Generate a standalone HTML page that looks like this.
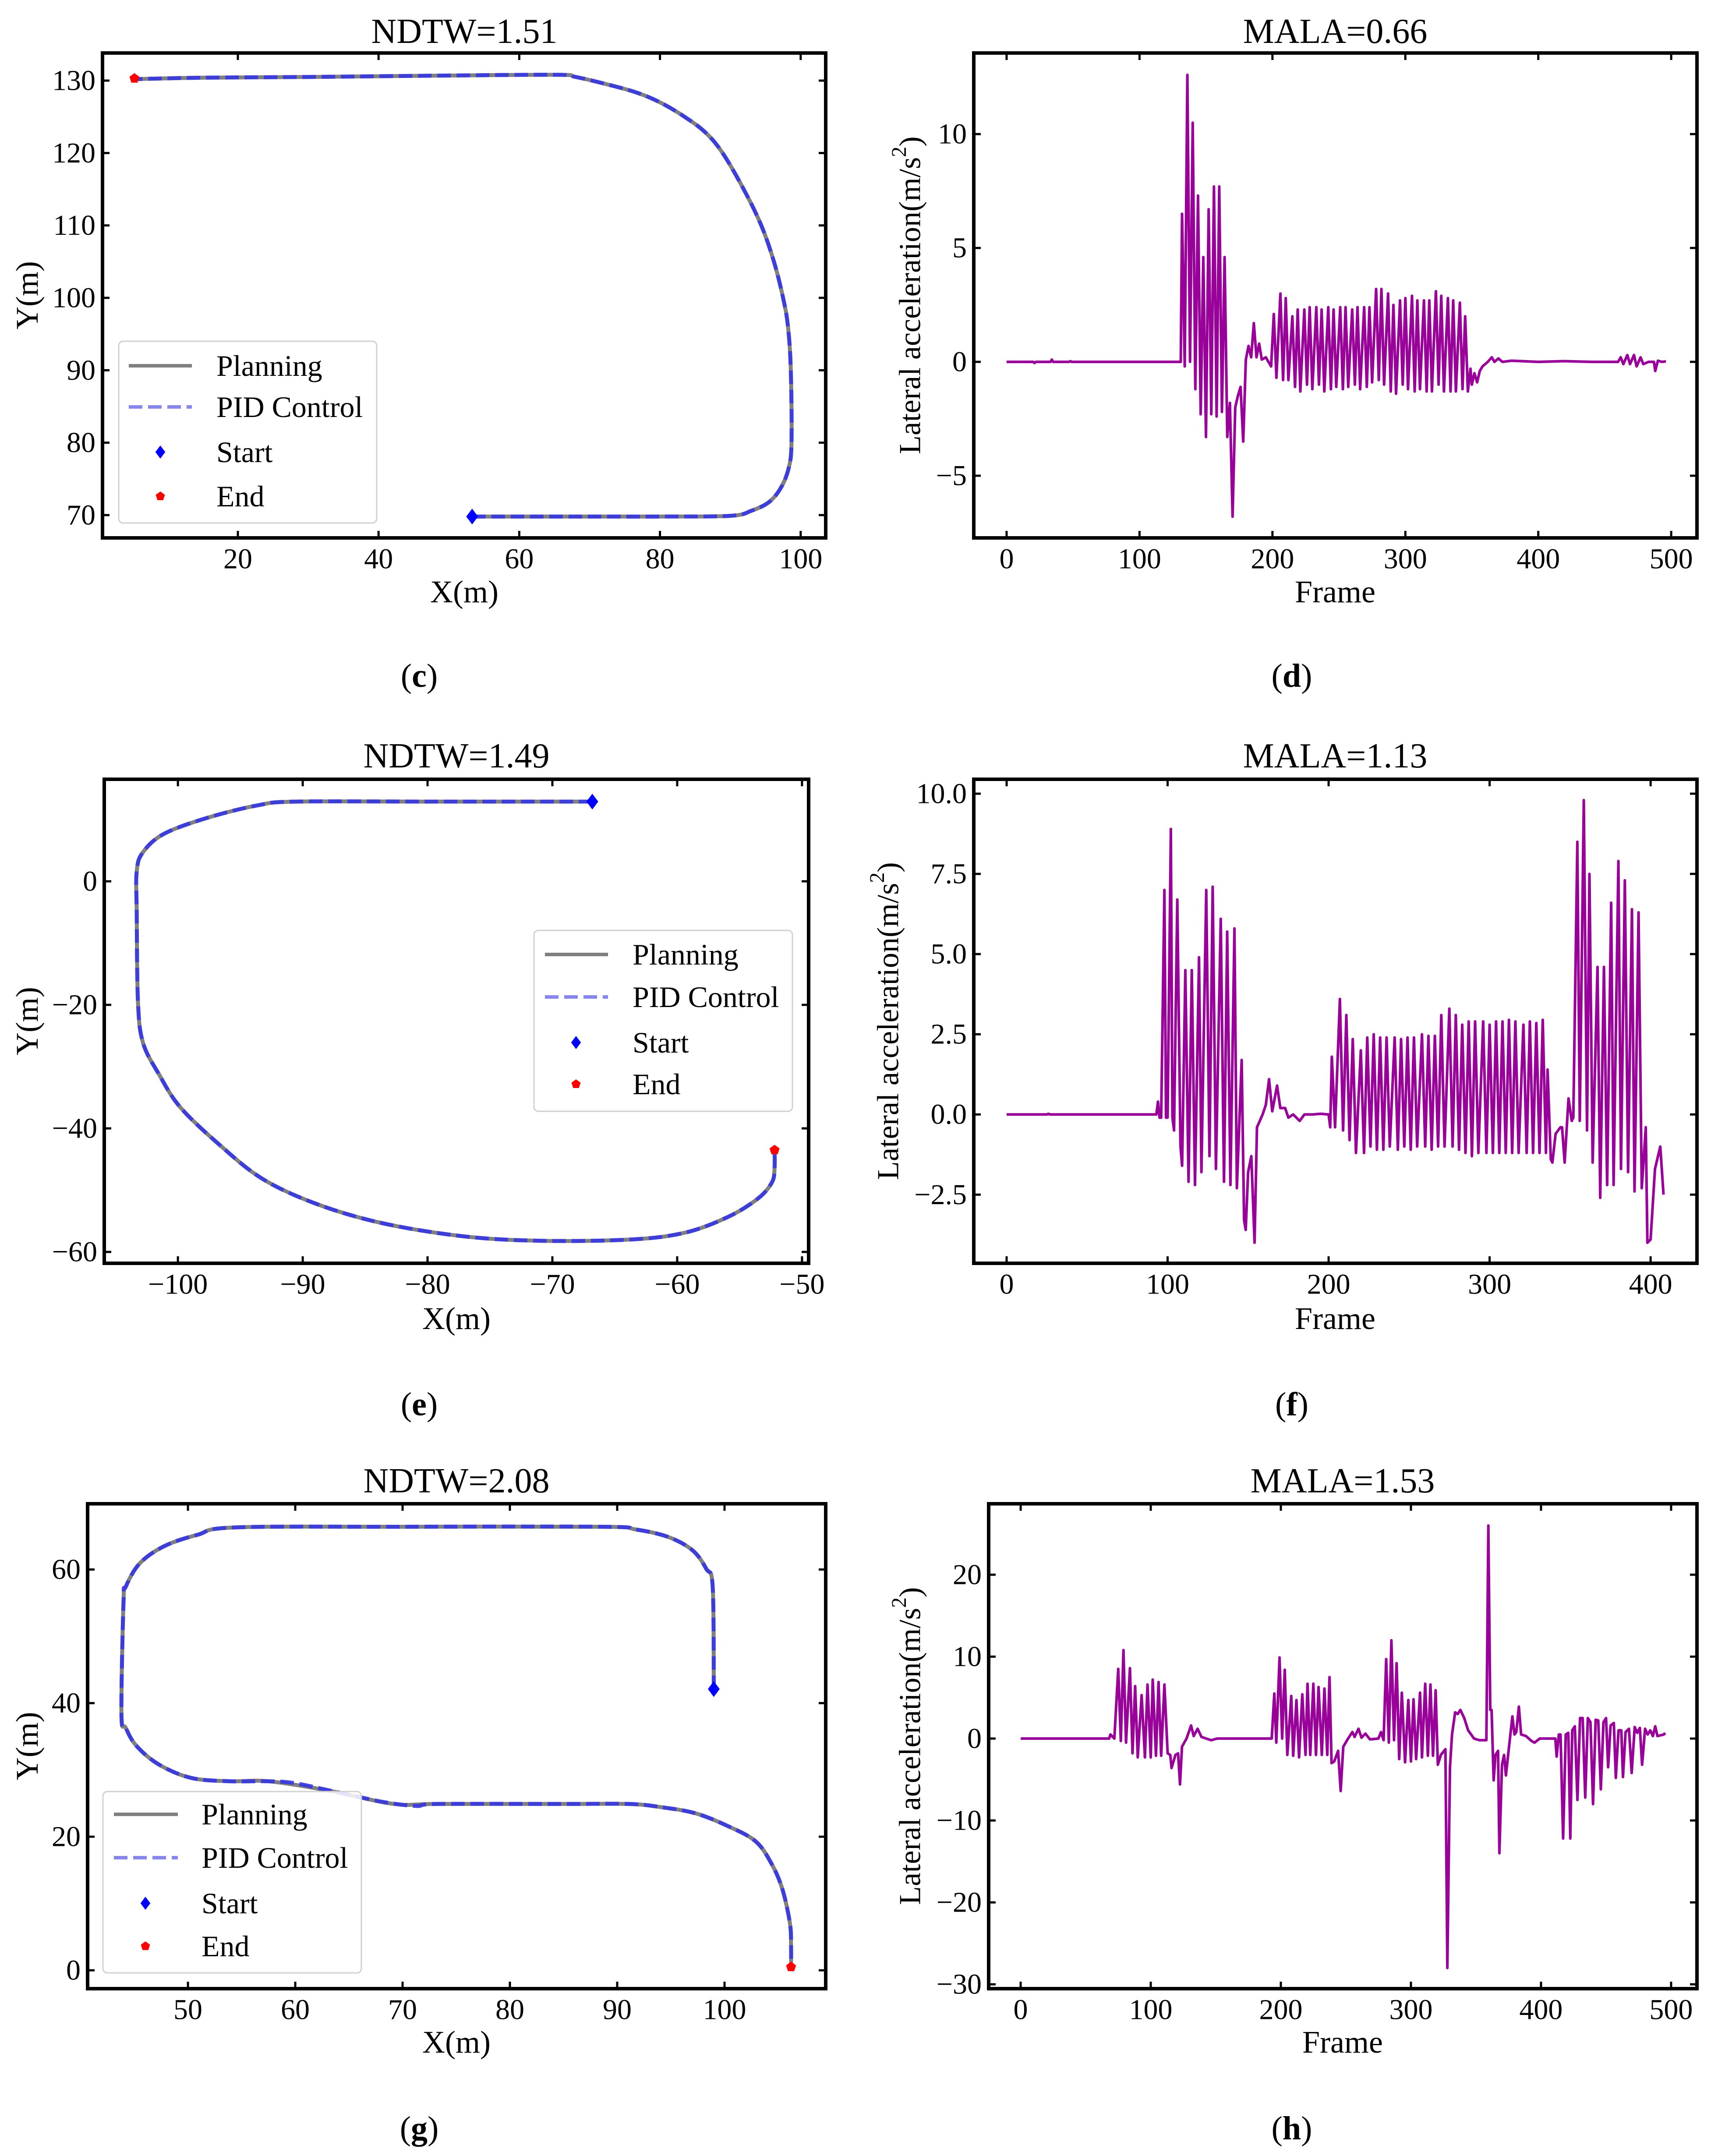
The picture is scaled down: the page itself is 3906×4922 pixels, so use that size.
<!DOCTYPE html>
<html><head><meta charset="utf-8"><title>Trajectory and lateral acceleration charts</title>
<style>
html,body{margin:0;padding:0;background:#fff;}
svg{display:block;font-family:"Liberation Serif","DejaVu Serif",serif;}
</style></head>
<body>
<svg id="fig" xmlns="http://www.w3.org/2000/svg" width="3906" height="4922" viewBox="0 0 3906 4922">
<rect x="0" y="0" width="3906" height="4922" fill="#fff"/>
<g id="static" font-family="Liberation Serif, serif" fill="#000">
  <text x="1060" y="72" font-size="80" text-anchor="middle" dominant-baseline="central">NDTW=1.51</text>
  <text x="3048" y="72" font-size="80" text-anchor="middle" dominant-baseline="central">MALA=0.66</text>
  <text x="1042" y="1726" font-size="80" text-anchor="middle" dominant-baseline="central">NDTW=1.49</text>
  <text x="3048" y="1726" font-size="80" text-anchor="middle" dominant-baseline="central">MALA=1.13</text>
  <text x="1042" y="3381" font-size="80" text-anchor="middle" dominant-baseline="central">NDTW=2.08</text>
  <text x="3065" y="3381" font-size="80" text-anchor="middle" dominant-baseline="central">MALA=1.53</text>
  <text x="1060" y="1351" font-size="72" text-anchor="middle" dominant-baseline="central">X(m)</text>
  <text x="3048" y="1351" font-size="72" text-anchor="middle" dominant-baseline="central">Frame</text>
  <text x="1042" y="3010" font-size="72" text-anchor="middle" dominant-baseline="central">X(m)</text>
  <text x="3048" y="3010" font-size="72" text-anchor="middle" dominant-baseline="central">Frame</text>
  <text x="1042" y="4662" font-size="72" text-anchor="middle" dominant-baseline="central">X(m)</text>
  <text x="3065" y="4662" font-size="72" text-anchor="middle" dominant-baseline="central">Frame</text>
  <text x="62" y="674" font-size="72" text-anchor="middle" dominant-baseline="central" transform="rotate(-90 62 674)">Y(m)</text>
  <text x="2078" y="674" font-size="70" text-anchor="middle" dominant-baseline="central" transform="rotate(-90 2078 674)">Lateral acceleration(m/s<tspan font-size="48" dy="-26">2</tspan><tspan dy="26">)</tspan></text>
  <text x="62" y="2331" font-size="72" text-anchor="middle" dominant-baseline="central" transform="rotate(-90 62 2331)">Y(m)</text>
  <text x="2028" y="2331" font-size="70" text-anchor="middle" dominant-baseline="central" transform="rotate(-90 2028 2331)">Lateral acceleration(m/s<tspan font-size="48" dy="-26">2</tspan><tspan dy="26">)</tspan></text>
  <text x="62" y="3986" font-size="72" text-anchor="middle" dominant-baseline="central" transform="rotate(-90 62 3986)">Y(m)</text>
  <text x="2078" y="3986" font-size="70" text-anchor="middle" dominant-baseline="central" transform="rotate(-90 2078 3986)">Lateral acceleration(m/s<tspan font-size="48" dy="-26">2</tspan><tspan dy="26">)</tspan></text>
  <text x="957" y="1543" font-size="76" text-anchor="middle" dominant-baseline="central">(<tspan font-weight="bold">c</tspan>)</text>
  <text x="2949" y="1543" font-size="76" text-anchor="middle" dominant-baseline="central">(<tspan font-weight="bold">d</tspan>)</text>
  <text x="957" y="3206" font-size="76" text-anchor="middle" dominant-baseline="central">(<tspan font-weight="bold">e</tspan>)</text>
  <text x="2949" y="3206" font-size="76" text-anchor="middle" dominant-baseline="central">(<tspan font-weight="bold">f</tspan>)</text>
  <text x="957" y="4859" font-size="76" text-anchor="middle" dominant-baseline="central">(<tspan font-weight="bold">g</tspan>)</text>
  <text x="2949" y="4859" font-size="76" text-anchor="middle" dominant-baseline="central">(<tspan font-weight="bold">h</tspan>)</text>
</g>
<g id="dyn"></g>
</svg>
<script>
// ---------- Trajectory data ----------
const cPlanX = [53.3,60,70,80,90,93,95.5,97.2,98.3,98.7,98.6,98.2,97.5,96.2,94.4,91.9,88.9,86.5,83.5,80,76.5,72,68,65.5,50,30,15,5.3];
const cPlanY = [69.8,69.8,69.8,69.8,69.9,70.6,71.8,73.8,76.5,80,90,96,100,105,110,115,120,122.8,125,127,128.4,129.6,130.5,130.8,130.7,130.5,130.4,130.2];
const cCtrlX = [53.3,60,70,80,90,93,95.5,97.2,98.3,98.7,98.6,98.2,97.5,96.2,94.4,91.9,88.9,86.5,83.5,80,76.5,72,68,65.5,50,30,15,5.3];
const cCtrlY = [69.8,69.8,69.8,69.8,69.9,70.6,71.8,73.8,76.5,80,90,96,100,105,110,115,120,122.8,125,127,128.4,129.6,130.5,130.8,130.7,130.5,130.4,130.2];
const cStart = [53.3,69.8];
const cEnd = [5.3,130.3];

const ePlanX = [-66.8,-80,-90.6,-93.6,-97.6,-101.1,-102.8,-103.3,-103.3,-103.2,-102.8,-101.5,-99.8,-96.7,-93.2,-88.8,-83.5,-77,-70.8,-63.8,-59.4,-55.9,-53.5,-52.4,-52.2,-52.2];
const ePlanY = [12.9,12.9,12.9,12.3,10.3,7.7,4.7,1.6,-5,-19.4,-26.1,-31.3,-36.6,-42.6,-48.2,-52.3,-55.4,-57.5,-58.2,-58,-56.9,-54.3,-51.3,-48.7,-46.4,-43.5];
const eCtrlX = [-66.8,-80,-90.6,-93.6,-97.6,-101.1,-102.8,-103.3,-103.3,-103.2,-102.8,-101.5,-99.8,-96.7,-93.2,-88.8,-83.5,-77,-70.8,-63.8,-59.4,-55.9,-53.5,-52.4,-52.2,-52.2];
const eCtrlY = [12.9,12.9,12.9,12.3,10.3,7.7,4.7,1.6,-5,-19.4,-26.1,-31.3,-36.6,-42.6,-48.2,-52.3,-55.4,-57.5,-58.2,-58,-56.9,-54.3,-51.3,-48.7,-46.4,-43.5];
const eStart = [-66.8,12.9];
const eEnd = [-52.2,-43.5];

const gPlanX = [99.0,98.9,98.3,97.0,94.7,91.7,88.6,70,54.4,50.9,47.8,45.5,44.2,44.0,43.8,44.2,45.2,47.3,50.3,53.9,57.5,63.1,69.2,73.3,85,91.1,94.2,97.3,100.3,102.9,104.4,105.4,106.1,106.2,106.2];
const gPlanY = [42.1,57.4,60.1,62.9,64.9,66.0,66.4,66.4,66.3,65.2,63.5,60.9,57.4,55.4,38.4,36.3,33.6,30.8,28.8,28.3,28.3,26.9,24.9,24.9,24.9,24.9,24.4,23.5,21.6,19.3,15.9,12.1,7.0,3.6,0.5];
const gCtrlX = [99.0,98.9,98.3,97.0,94.7,91.7,88.6,70,54.4,50.9,47.8,45.5,44.2,44.0,43.8,44.2,45.2,47.3,50.3,53.9,57.5,60.0,64.1,68.2,71.3,73.3,85,91.1,94.2,97.3,100.3,102.9,104.4,105.4,106.1,106.2,106.2];
const gCtrlY = [42.1,57.4,60.1,62.9,64.9,66.0,66.4,66.4,66.3,65.2,63.5,60.9,57.4,55.4,38.4,36.3,33.6,30.8,28.8,28.3,28.3,28.0,26.6,25.2,24.6,24.9,24.9,24.9,24.4,23.5,21.6,19.3,15.9,12.1,7.0,3.6,0.5];
const gStart = [99.0,42.1];
const gEnd = [106.2,0.5];

// ---------- Acceleration data ----------
const dHeadFrames = [0,20,21,22,33,34,35,47,48,49,131,132,134,136,138,140,142,144,146,148,150,152,154,156,158,160,162,164,166,168,170,172,174,176,178,180,182,184,186,188,190,192,195,197,199];
const dHeadValues = [0,0,-0.05,0,0,0.1,0,0,0.03,0,0,6.5,-0.2,12.6,0,10.5,-1.2,7.3,-2.3,4.6,-3.3,6.7,-2.3,7.7,-2.4,7.7,-2.2,4.6,-3.3,-1.8,-6.8,-2.0,-1.5,-1.1,-3.5,0.1,0.7,0.2,1.7,0.2,0.8,0.1,0.2,0,-0.2];
const dPeakFrames = [201,206,210,215,219,224,228,233,237,242,246,251,255,260,264,269,273,278,282,287,291,296,300,305,309,314,318,323,327,332,336,341,345];
const dPeakValues = [2.1,3.0,2.8,2.0,2.3,2.3,2.4,2.4,2.3,2.4,2.3,2.4,2.4,2.3,2.4,2.4,2.4,3.2,3.2,3.0,2.5,2.7,2.8,2.9,2.7,2.7,2.7,3.1,2.9,2.8,2.7,2.6,2.0];
const dTroughValues = [-0.7,-0.8,-0.8,-1.1,-1.3,-1.0,-1.2,-1.0,-1.3,-1.2,-1.1,-1.2,-1.1,-1.0,-1.2,-1.1,-0.9,-0.8,-1.0,-1.3,-1.4,-1.0,-1.2,-1.3,-1.2,-1.3,-1.3,-1.0,-1.3,-1.3,-1.3,-1.2,-1.3];
const dTailFrames = [349,350,352,354,356,358,362,365,367,370,373,380,400,420,440,460,462,464,467,469,472,474,477,479,483,487,488,490,493,496];
const dTailValues = [-0.3,-1.0,-0.5,-0.9,-0.4,-0.2,0.0,0.2,0.0,0.15,0.0,0.05,0,0.03,0,0,0.2,-0.1,0.3,-0.1,0.3,-0.2,0.2,-0.1,0.0,0,-0.4,0.05,0,0.02];

const fHeadFrames = [0,25,26,27,93,94,95,96,98,99,100,102,103,104,106,108,109,111,113,115,117,119.5,121,124,126,128,130,133,135,137,139,141.5,143,146,147.5,148.5,150,152,154,155.5,159,161,163,165,168,170,173,175,178,182,185,190,195,200,201];
const fHeadValues = [0,0,0.02,0,0,0.4,-0.1,-0.1,7.0,-0.1,-0.1,8.9,-0.1,-0.5,6.7,-1.0,-1.6,4.5,-2.1,4.5,-2.2,4.9,-1.8,7.0,-1.3,7.1,-1.7,6.1,-2.1,5.7,-2.2,5.8,-2.3,1.7,-3.3,-3.6,-1.8,-1.3,-4.0,-0.4,0,0.3,1.1,0.1,0.9,0.2,0.2,-0.1,0,-0.2,0,0,0.02,0,-0.4];
const fPeakFrames = [202,207,211,215,220,224,228,232,236,241,245,249,253,258,262,266,270,275,279,283,287,291,296,300,304,308,312,316,321,325,329,333];
const fPeakValues = [1.8,3.6,3.1,2.35,2.0,2.4,2.5,2.4,2.4,2.4,2.35,2.4,2.4,2.5,2.45,2.45,3.1,3.3,3.1,2.8,2.9,2.9,2.9,2.8,2.9,2.9,2.95,2.9,2.8,2.9,2.85,2.95];
const fTroughValues = [-0.4,-0.5,-0.8,-1.2,-1.2,-1.0,-1.1,-1.1,-1.0,-1.1,-1.0,-1.1,-1.0,-1.0,-1.1,-1.0,-1.0,-1.0,-1.1,-1.2,-1.3,-1.2,-1.2,-1.2,-1.2,-1.2,-1.2,-1.2,-1.2,-1.2,-1.2,-1.2];
const fTailFrames = [336,338,339,341,344,345,346.6,349,351,352,354.5,356,358.5,360.5,362,364,367,368.7,371,373,375.5,377,380,381.6,384,386,388.4,390,392.5,394.5,397,398,400,402.7,406,408];
const fTailValues = [1.4,-1.4,-1.5,-0.6,-0.4,-0.4,-1.5,0.5,-0.2,-0.1,8.5,-0.2,9.8,-0.5,7.5,-1.5,4.6,-2.6,4.6,-2.2,6.6,-2.2,7.9,-1.7,7.3,-1.8,6.4,-2.4,6.3,-2.3,-0.4,-4.0,-3.9,-1.7,-1.0,-2.5];

const hFrames = [0,68,69,72,75,77,79,81,84,86,88,90,93,95.5,97.5,100,101.5,104,106,108,110.5,113,115,116,119,121,122.5,124,127.5,131,133,136,139,146.5,151,193,195,196.5,199,201,203,205,208,209.5,212,214,216.5,219,220.5,222.6,225,227,229,231.5,233.5,235.7,237.4,239,241,244,246,248,251.7,255,256.7,259.7,262,265,268.5,275,277,279,281,283,285,287,289,291,293,295.5,298,300,302,304,307,308.5,311,313,315,317,319,320.7,323,326.5,328,330,331.6,334,336,338,341,344,348.5,352.7,357,358,359.5,361,362,363.6,365,367,368,370,371.6,373,375.4,378,379.6,381,383,384.7,388.5,392.7,395,399,407,411,412,413.7,415,417,419,421,422.5,424,426,428,430,432,434,436,438,440,442,444,446,448,450,451.6,453.5,456,457.5,459.6,461.7,463,465,467.6,469.7,472,474,476,477.7,480,482,484,486,487.8,489.5,492,494.5,495.4];
const hValues = [0,0,0.5,0,8.5,-0.3,10.8,-0.5,8.6,-1.8,6.4,-2.3,5.3,-2.3,6.6,-2.3,7.2,-2.1,6.9,-2.1,6.6,-1.8,-2.0,-3.6,-2.0,-1.8,-5.6,-1.0,0,1.6,0.3,1.2,0.2,-0.2,0,0,5.5,-0.5,9.9,0,8.4,-2.0,5.2,-2.1,4.7,-2.3,5.4,-2.0,6.7,-2.0,6.7,-2.0,6.3,-2.0,6.1,-2.0,7.5,-3.0,-2.8,-1.5,-6.4,-1.0,0,0.8,0.2,1.2,0.1,0.6,-0.1,0,0.8,-0.2,9.7,-0.5,12,-0.2,9.2,-2.5,5.6,-2.9,4.7,-2.8,4.8,-2.5,5.6,-2.3,6.7,-2.1,6.6,-2.1,5.9,-3.2,-2.0,-1.3,-28,-3.5,0.5,3.2,3.0,3.5,2.5,1.0,0,-0.2,-0.2,-0.2,26,3.5,3.5,-5.1,-2.0,-1.5,-14,-3.2,-2.0,-4.5,-1.0,2.7,0.5,0.8,3.9,0.5,0.3,-0.3,-0.5,0,0,0,-2.2,0.5,0.5,-12.2,0.5,0.7,-12.2,1.0,1.5,-7.5,2.5,2.5,-7.2,2.5,2.0,-8.0,2.3,2.2,-6.2,2.0,2.5,-3.5,1.6,1.9,-4.8,1.0,1.0,-4.7,0.8,1.2,-4.2,1.4,0.7,1.3,-3.2,1.2,0.5,1.0,0.3,1.5,0.3,0.4,0.5,0.7];

// ---------- tick label arrays ----------
const cXTicks = [20,40,60,80,100];
const cYTicks = [70,80,90,100,110,120,130];
const dXTicks = [0,100,200,300,400,500];
const dYTicks = [-5,0,5,10];
const eXTicks = [-100,-90,-80,-70,-60,-50];
const eYTicks = [-60,-40,-20,0];
const fXTicks = [0,100,200,300,400];
const fYTicks = [-2.5,0,2.5,5,7.5,10];
const gXTicks = [50,60,70,80,90,100];
const gYTicks = [0,20,40,60];
const hXTicks = [0,100,200,300,400,500];
const hYTicks = [-30,-20,-10,0,10,20];

const NS = "http://www.w3.org/2000/svg";
const root = document.getElementById('dyn');
function mk(tag, attrs, parent){
  const e = document.createElementNS(NS, tag);
  for (const k in attrs) e.setAttribute(k, attrs[k]);
  (parent || root).appendChild(e);
  return e;
}
function fmt(v, dec){
  const s = dec ? v.toFixed(dec) : String(v);
  return s.replace('-', '\u2212');
}
function makeAxes(key, box, xlim, ylim, xt, yt, ydec){
  const ax = {box, xlim, ylim};
  ax.sx = v => box[0] + (v - xlim[0]) / (xlim[1] - xlim[0]) * (box[2] - box[0]);
  ax.sy = v => box[3] - (v - ylim[0]) / (ylim[1] - ylim[0]) * (box[3] - box[1]);
  const g = mk('g', {});
  
  
  ax.g = g;
  const clip = mk('clipPath', {id: 'clip-' + key}, g);
  mk('rect', {x: box[0], y: box[1], width: box[2]-box[0], height: box[3]-box[1]}, clip);
  ax.plot = mk('g', {'clip-path': 'url(#clip-' + key + ')'}, g);
  
  
  const TL = 16;
  xt.forEach(v => {
    const x = ax.sx(v);
    const t1 = mk('line', {x1: x, x2: x, y1: box[3], y2: box[3]-TL, stroke: '#000', 'stroke-width': 5}, g);
    
    
    const t2 = mk('line', {x1: x, x2: x, y1: box[1], y2: box[1]+TL, stroke: '#000', 'stroke-width': 5}, g);
    
    
    const lb = mk('text', {x: x, y: box[3] + 48, 'font-size': 66, 'text-anchor': 'middle', 'dominant-baseline': 'central'}, g);
    lb.textContent = fmt(v, 0);
    
    
  });
  yt.forEach(v => {
    const y = ax.sy(v);
    const t1 = mk('line', {x1: box[0], x2: box[0]+TL, y1: y, y2: y, stroke: '#000', 'stroke-width': 5}, g);
    
    
    const t2 = mk('line', {x1: box[2], x2: box[2]-TL, y1: y, y2: y, stroke: '#000', 'stroke-width': 5}, g);
    
    
    const lb = mk('text', {x: box[0] - 16, y: y, 'font-size': 66, 'text-anchor': 'end', 'dominant-baseline': 'central'}, g);
    lb.textContent = fmt(v, ydec);
    
    
  });
  return ax;
}
function finishAxes(ax, key){
  const b = ax.box;
  const sp = mk('rect', {x: b[0], y: b[1], width: b[2]-b[0], height: b[3]-b[1], fill: 'none', stroke: '#000', 'stroke-width': 8}, ax.g);
  
  
}
function pathFrom(ax, xs, ys){
  let d = '';
  for (let i = 0; i < xs.length; i++) d += (i ? 'L' : 'M') + ax.sx(xs[i]).toFixed(1) + ' ' + ax.sy(ys[i]).toFixed(1);
  return d;
}
function smoothPath(ax, xs, ys){
  const P = xs.map((x, i) => [ax.sx(x), ax.sy(ys[i])]);
  let d = 'M' + P[0][0].toFixed(1) + ' ' + P[0][1].toFixed(1);
  for (let i = 0; i < P.length - 1; i++){
    const p0 = P[Math.max(0, i-1)], p1 = P[i], p2 = P[i+1], p3 = P[Math.min(P.length-1, i+2)];
    const c1 = [p1[0] + (p2[0]-p0[0])/6, p1[1] + (p2[1]-p0[1])/6];
    const c2 = [p2[0] - (p3[0]-p1[0])/6, p2[1] - (p3[1]-p1[1])/6];
    d += 'C' + c1[0].toFixed(1) + ' ' + c1[1].toFixed(1) + ' ' + c2[0].toFixed(1) + ' ' + c2[1].toFixed(1) + ' ' + p2[0].toFixed(1) + ' ' + p2[1].toFixed(1);
  }
  return d;
}
function diamond(cx, cy, r){ return `M${cx} ${cy-r}L${cx+r*0.75} ${cy}L${cx} ${cy+r}L${cx-r*0.75} ${cy}Z`; }
function pentagon(cx, cy, r){
  let d = '';
  for (let i = 0; i < 5; i++){ const a = -Math.PI/2 + i*2*Math.PI/5; d += (i?'L':'M') + (cx + r*Math.cos(a)).toFixed(1) + ' ' + (cy + r*Math.sin(a)).toFixed(1); }
  return d + 'Z';
}
function trajectory(key, ax, px, py, cx, cy, st, en){
  const p1 = mk('path', {d: smoothPath(ax, px, py), fill: 'none', stroke: '#808080', 'stroke-width': 9, 'stroke-linejoin': 'round'}, ax.plot);
  
  
  const p2 = mk('path', {d: smoothPath(ax, cx, cy), fill: 'none', stroke: '#3535e0', 'stroke-opacity': 0.9, 'stroke-width': 9, 'stroke-dasharray': '31 13'}, ax.plot);
  
  
  const s = mk('path', {d: diamond(ax.sx(st[0]), ax.sy(st[1]), 18), fill: '#0000ff'}, ax.plot);
  
  
  const e = mk('path', {d: pentagon(ax.sx(en[0]), ax.sy(en[1]), 12), fill: '#ff0000'}, ax.plot);
  
  
}
function legend(key, box, rows, lx0, lx1, mx, tx){
  const g = mk('g', {});
  
  
  mk('rect', {x: box[0], y: box[1], width: box[2]-box[0], height: box[3]-box[1], rx: 10, fill: '#fff', 'fill-opacity': 0.85, stroke: '#d0d0d0', 'stroke-width': 3}, g);
  const labels = ['Planning', 'PID Control', 'Start', 'End'];
  const l1 = mk('line', {x1: lx0, x2: lx1, y1: rows[0], y2: rows[0], stroke: '#808080', 'stroke-width': 8}, g);
  
  
  const l2 = mk('line', {x1: lx0, x2: lx1, y1: rows[1], y2: rows[1], stroke: '#3535e0', 'stroke-opacity': 0.6, 'stroke-width': 8, 'stroke-dasharray': '31 13'}, g);
  
  
  const m1 = mk('path', {d: diamond(mx, rows[2], 15), fill: '#0000ff'}, g);
  
  
  const m2 = mk('path', {d: pentagon(mx, rows[3], 11), fill: '#ff0000'}, g);
  
  
  labels.forEach((t, i) => {
    const tt = mk('text', {x: tx, y: rows[i], 'font-size': 68, 'dominant-baseline': 'central'}, g);
    tt.textContent = t;
    
    
  });
}
function accel(key, ax, fr, vals){
  const p = mk('path', {d: pathFrom(ax, fr, vals), fill: 'none', stroke: '#990099', 'stroke-width': 6, 'stroke-linejoin': 'round'}, ax.plot);
  
  
}
function mergeOsc(hf, hv, pf, pv, tv, tf, tvv){
  const F = hf.slice(), V = hv.slice();
  for (let i = 0; i < pf.length; i++){ F.push(pf[i]); V.push(pv[i]); F.push(pf[i] + 2); V.push(tv[i]); }
  return [F.concat(tf), V.concat(tvv)];
}

const axC = makeAxes('c', [234,121,1885,1228], [0.76,103.56], [66.85,133.81], cXTicks, cYTicks, 0);
trajectory('c', axC, cPlanX, cPlanY, cCtrlX, cCtrlY, cStart, cEnd);
finishAxes(axC, 'c');
legend('c', [271,779,860,1194], [835,929,1032,1133], 294, 438, 366, 494);

const axD = makeAxes('d', [2223,121,3874,1228], [-24.7,519.4], [-7.73,13.56], dXTicks, dYTicks, 0);
const dSeries = mergeOsc(dHeadFrames, dHeadValues, dPeakFrames, dPeakValues, dTroughValues, dTailFrames, dTailValues);
accel('d', axD, dSeries[0], dSeries[1]);
finishAxes(axD, 'd');

const axE = makeAxes('e', [238,1779,1846,2884], [-105.9,-49.47], [-61.84,16.52], eXTicks, eYTicks, 0);
trajectory('e', axE, ePlanX, ePlanY, eCtrlX, eCtrlY, eStart, eEnd);
finishAxes(axE, 'e');
legend('e', [1219,2124,1809,2537], [2179,2276,2380,2475], 1244, 1388, 1315, 1444);

const axF = makeAxes('f', [2223,1779,3874,2884], [-20.4,428.8], [-4.64,10.45], fXTicks, fYTicks, 1);
const fSeries = mergeOsc(fHeadFrames, fHeadValues, fPeakFrames, fPeakValues, fTroughValues, fTailFrames, fTailValues);
accel('f', axF, fSeries[0], fSeries[1]);
finishAxes(axF, 'f');

const axG = makeAxes('g', [200,3433,1885,4540], [40.65,109.43], [-2.75,69.84], gXTicks, gYTicks, 0);
trajectory('g', axG, gPlanX, gPlanY, gCtrlX, gCtrlY, gStart, gEnd);
finishAxes(axG, 'g');
legend('g', [235,4090,825,4504], [4142,4241,4345,4443], 260, 406, 332, 460);

const axH = makeAxes('h', [2257,3433,3874,4540], [-24.6,519.9], [-30.53,28.66], hXTicks, hYTicks, 0);
accel('h', axH, hFrames, hValues);
finishAxes(axH, 'h');
</script>
</body></html>
